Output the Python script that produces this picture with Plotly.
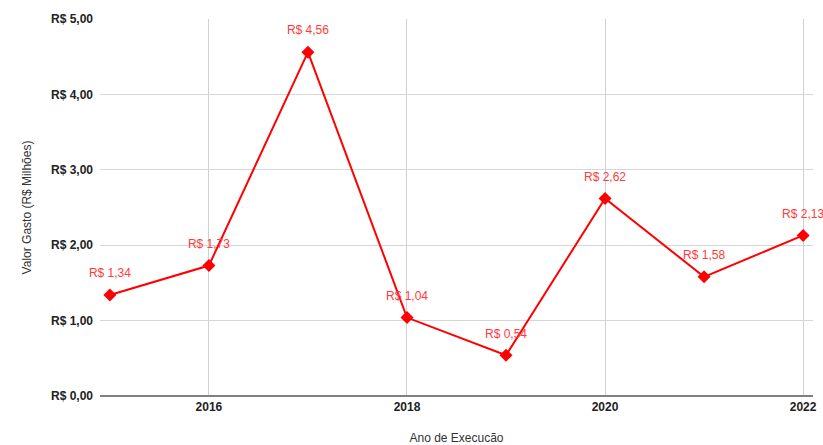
import plotly.graph_objects as go

# Valor gasto por ano de execução (R$ milhões)
anos = [2015, 2016, 2017, 2018, 2019, 2020, 2021, 2022]
valores = [1.34, 1.73, 4.56, 1.04, 0.54, 2.62, 1.58, 2.13]
rotulos = ["R$ " + f"{v:.2f}".replace(".", ",") for v in valores]

y_ticks = [0, 1, 2, 3, 4, 5]
y_labels = ["R$ 0,00", "R$ 1,00", "R$ 2,00", "R$ 3,00", "R$ 4,00", "R$ 5,00"]

fig = go.Figure()

fig.add_trace(go.Scatter(
    x=anos, y=valores,
    mode="lines+markers",
    line=dict(color="#ff0000", width=2),
    marker=dict(symbol="diamond", size=10, color="#ff0000"),
    showlegend=False,
    hoverinfo="skip",
))

# rótulos com um marcador invisível maior, para afastar o texto do ponto
fig.add_trace(go.Scatter(
    x=anos, y=valores,
    mode="markers+text",
    marker=dict(size=22, color="rgba(0,0,0,0)"),
    text=rotulos,
    textposition="top center",
    textfont=dict(color="#ff3b3b", size=12, family="Liberation Sans"),
    cliponaxis=False,
    showlegend=False,
))

fig.update_layout(
    width=823, height=445,
    margin=dict(l=100, r=10, t=19, b=49),
    paper_bgcolor="white",
    plot_bgcolor="white",
    font=dict(family="Liberation Sans", color="#222222", size=12),
    xaxis=dict(
        range=[2014.9, 2022.1],
        tick0=2016, dtick=2,
        showgrid=True, gridcolor="#d0d0d0", gridwidth=1,
        zeroline=False,
        showline=False,
        automargin=False,
        tickprefix="<b>", ticksuffix="</b>",
        tickfont=dict(size=12, color="#222222", family="Liberation Sans"),
        ticklabelstandoff=2,
        title=dict(text="Ano de Execucão", font=dict(size=12, color="#333333"), standoff=20),
    ),
    yaxis=dict(
        range=[0, 5],
        tickvals=y_ticks, ticktext=[f"<b>{t}</b>" for t in y_labels],
        showgrid=True, gridcolor="#d6d6d6", gridwidth=1,
        zeroline=True, zerolinecolor="#808080", zerolinewidth=2,
        automargin=False,
        tickfont=dict(size=12, color="#222222", family="Liberation Sans"),
        ticklabelstandoff=6,
        title=dict(text="Valor Gasto (R$ Milhões)", font=dict(size=12, color="#333333"), standoff=16),
    ),
)

# tira a margem padrão do body para a figura ocupar a janela toda
fig.write_html(
    "out.html",
    config={"displayModeBar": False},
    post_script="document.body.style.margin='0';document.body.style.overflow='hidden';",
)
